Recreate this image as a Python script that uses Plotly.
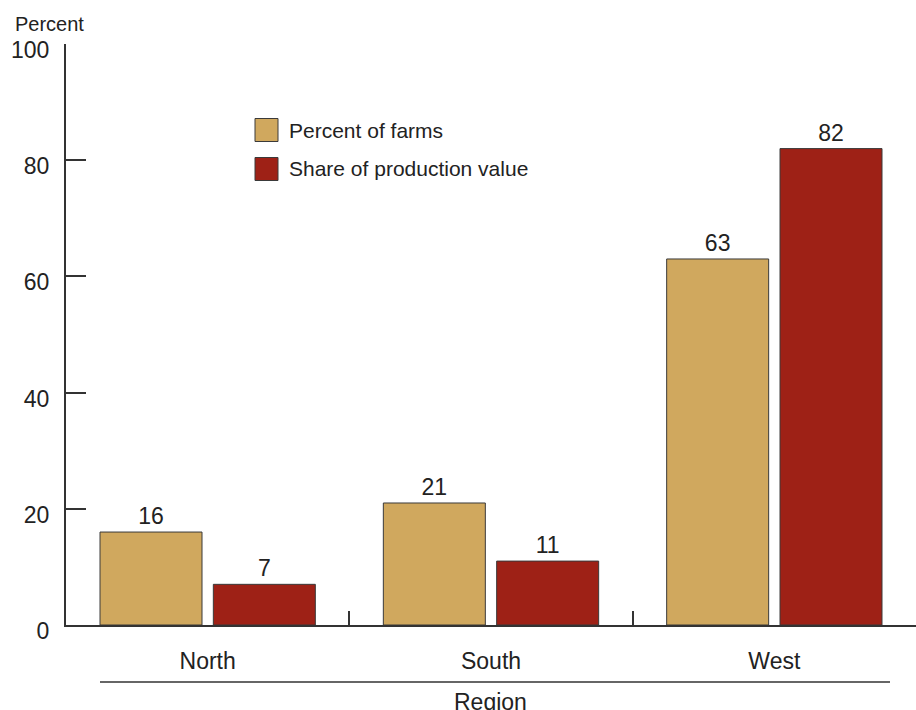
import plotly.graph_objects as go

regions = ["North", "South", "West"]
series_names = ["Percent of farms", "Share of production value"]
percent_of_farms = [16, 21, 63]
share_of_production = [7, 11, 82]
series_values = [percent_of_farms, share_of_production]
series_colors = ["#D0A85E", "#9E2116"]
y_ticks = [0, 20, 40, 60, 80, 100]

FONT = "Arial, Liberation Sans, sans-serif"
TEXT = "#222222"
AXIS = "#333333"

fig = go.Figure()
for name, vals, color in zip(series_names, series_values, series_colors):
    fig.add_trace(go.Bar(
        x=regions, y=vals, name=name,
        marker=dict(color=color, line=dict(color="#3a3a3a", width=1)),
        text=[str(v) for v in vals], textposition="outside",
        textfont=dict(family=FONT, size=23, color=TEXT),
        cliponaxis=False, showlegend=False,
    ))

# Legend drawn as swatches plus labels
leg_x0 = (255 - 66) / 850
sw_w = 23 / 850
for i, (name, color) in enumerate(zip(series_names, series_colors)):
    yc = (625 - (130 + 39 * i)) / 581
    half = 11.5 / 581
    fig.add_shape(type="rect", xref="paper", yref="paper",
                  x0=leg_x0, x1=leg_x0 + sw_w, y0=yc - half, y1=yc + half,
                  fillcolor=color, line=dict(color="#3a3a3a", width=1))
    fig.add_annotation(xref="paper", yref="paper", x=(287 - 66) / 850, y=yc,
                       xanchor="left", yanchor="middle", text=name, showarrow=False,
                       font=dict(family=FONT, size=21, color=TEXT))

# Region grouping rule and title
fig.add_shape(type="line", xref="paper", yref="paper",
              x0=(100 - 66) / 850, x1=(890 - 66) / 850,
              y0=(625 - 682) / 581, y1=(625 - 682) / 581,
              line=dict(color="#666666", width=2))
fig.add_annotation(xref="paper", yref="paper", x=(490 - 66) / 850, y=(625 - 702) / 581,
                   xanchor="center", yanchor="middle", text="Region", showarrow=False,
                   font=dict(family=FONT, size=23, color=TEXT))
fig.add_annotation(xref="paper", yref="paper", x=(86 - 66) / 850, y=(625 - 24) / 581,
                   xanchor="right", yanchor="middle", text="Percent", showarrow=False,
                   font=dict(family=FONT, size=20, color=TEXT))

fig.update_layout(
    width=916, height=710,
    margin=dict(l=66, r=0, t=44, b=85),
    paper_bgcolor="white", plot_bgcolor="white",
    barmode="group", bargap=0.2, bargroupgap=0.1,
    font=dict(family=FONT, size=23, color=TEXT),
    xaxis=dict(
        type="category", range=[-0.5, 2.5], tickson="boundaries",
        ticks="inside", ticklen=14, tickwidth=2, tickcolor=AXIS,
        showline=True, linecolor=AXIS, linewidth=2,
        showgrid=False, zeroline=False,
        tickfont=dict(family=FONT, size=23, color=TEXT),
        ticklabelstandoff=14,
    ),
    yaxis=dict(
        range=[0, 100], tickvals=y_ticks, ticktext=[str(t) for t in y_ticks],
        ticks="inside", ticklen=20, tickwidth=2, tickcolor=AXIS,
        showline=True, linecolor=AXIS, linewidth=2,
        showgrid=False, zeroline=False,
        tickfont=dict(family=FONT, size=23, color=TEXT),
        ticklabelstandoff=10, ticklabelshift=6,
    ),
)

fig.write_html("out.html")
